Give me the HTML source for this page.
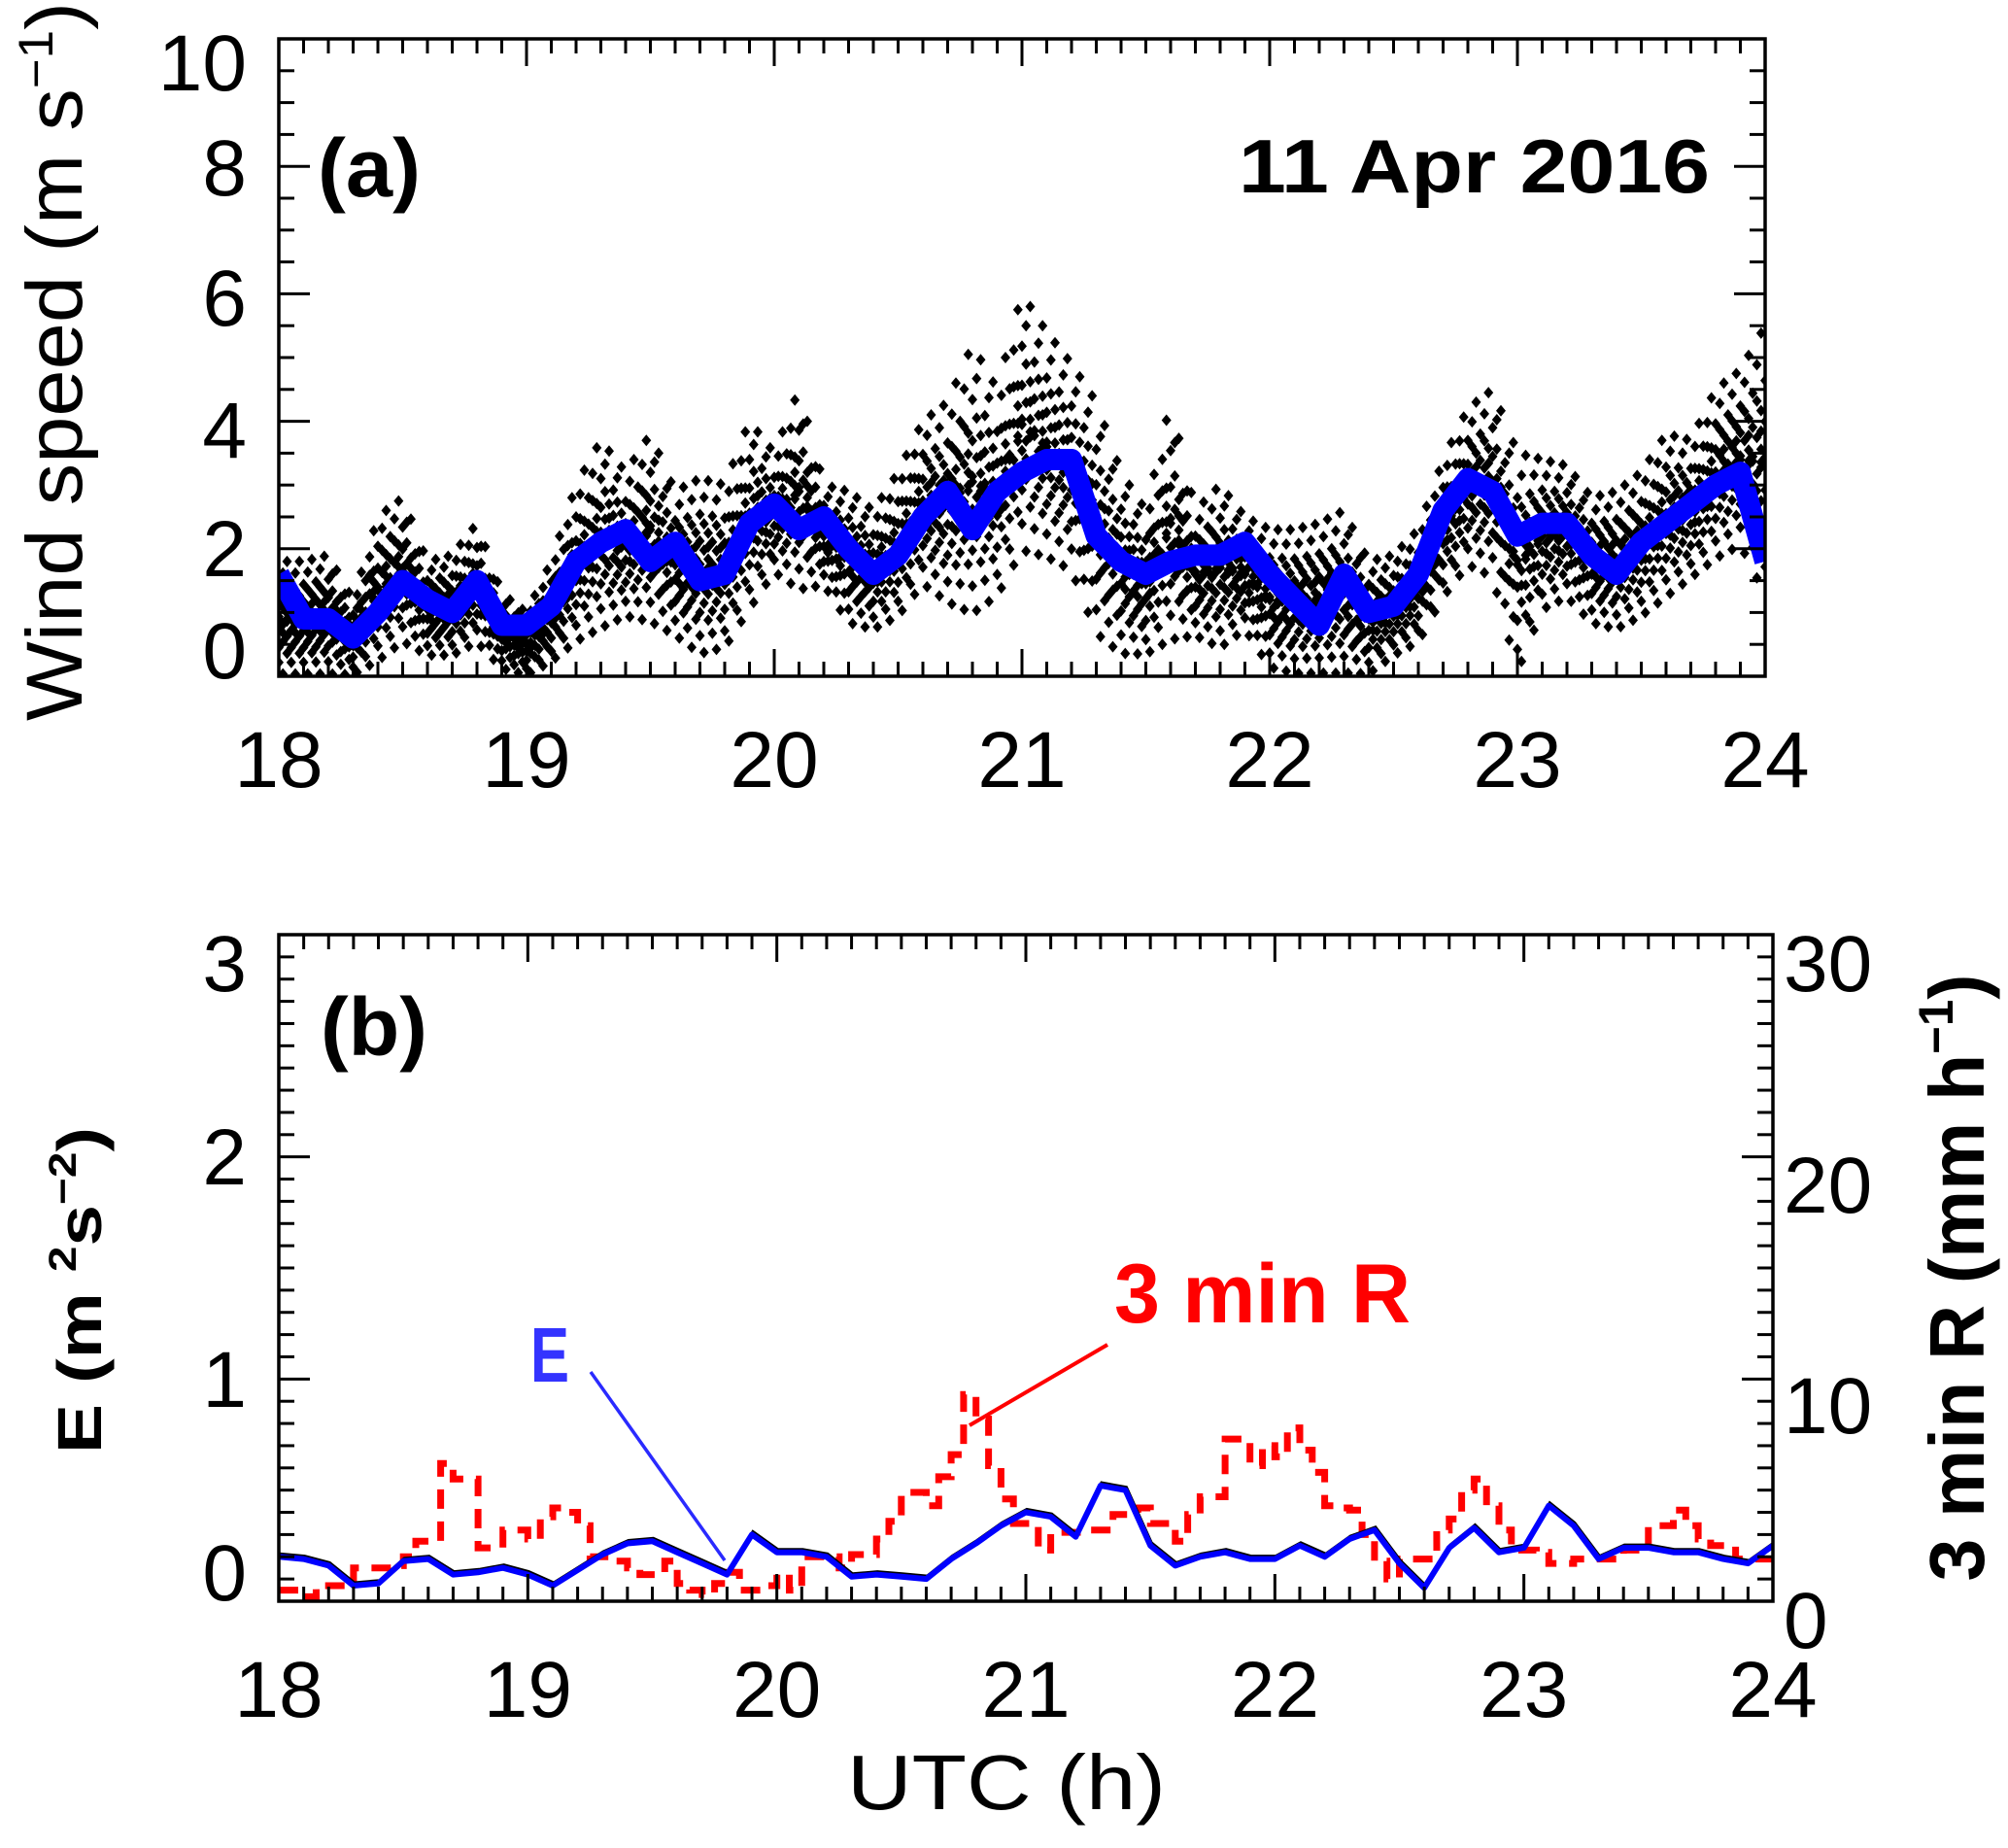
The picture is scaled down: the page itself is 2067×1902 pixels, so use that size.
<!DOCTYPE html>
<html><head><meta charset="utf-8"><title>Wind speed and E, 11 Apr 2016</title>
<style>html,body{margin:0;padding:0;background:#fff}svg{display:block}text{font-family:"Liberation Sans",sans-serif}</style>
</head><body>
<svg id="fig" width="2067" height="1902" viewBox="0 0 2067 1902" xmlns="http://www.w3.org/2000/svg">
<defs>
<clipPath id="clipA"><rect x="287" y="40" width="1530" height="656"/></clipPath>
<clipPath id="clipB"><rect x="287" y="962" width="1538" height="686"/></clipPath>
</defs>
<rect width="2067" height="1902" fill="#fff"/>
<g id="panelA"></g>
<g id="panelB"></g>

<text transform="translate(84,372) rotate(-90)" text-anchor="middle" font-size="82" textLength="740" lengthAdjust="spacingAndGlyphs">Wind speed  (m s<tspan font-size="50" dy="-30">−1</tspan><tspan dy="30">)</tspan></text>
<text x="327" y="202" font-size="84" font-weight="bold" textLength="106" lengthAdjust="spacingAndGlyphs">(a)</text>
<text x="1275" y="198" font-size="78" font-weight="bold" textLength="485" lengthAdjust="spacingAndGlyphs">11 Apr 2016</text>

<text x="330" y="1086" font-size="84" font-weight="bold" textLength="110" lengthAdjust="spacingAndGlyphs">(b)</text>
<text transform="translate(104,1328) rotate(-90)" text-anchor="middle" font-size="64" font-weight="bold" textLength="336" lengthAdjust="spacingAndGlyphs">E (m <tspan font-size="40" dy="-26">2</tspan><tspan dy="26">s</tspan><tspan font-size="40" dy="-26">−2</tspan><tspan dy="26">)</tspan></text>
<text transform="translate(2042,1315) rotate(-90)" text-anchor="middle" font-size="80" font-weight="bold" textLength="625" lengthAdjust="spacingAndGlyphs">3 min R (mm h<tspan font-size="50" dy="-32">−1</tspan><tspan dy="32">)</tspan></text>
<text x="1036" y="1862" text-anchor="middle" font-size="80" textLength="328" lengthAdjust="spacingAndGlyphs">UTC  (h)</text>

<line x1="608" y1="1412" x2="746" y2="1606" stroke="#2a2aff" stroke-width="3.5"/>
<text x="546" y="1422" font-size="80" font-weight="bold" fill="#3333ff" textLength="40" lengthAdjust="spacingAndGlyphs">E</text>
<line x1="1140" y1="1384" x2="998" y2="1467" stroke="#ff0000" stroke-width="4"/>
<text x="1147" y="1361" font-size="86" font-weight="bold" fill="#ff0000" textLength="305" lengthAdjust="spacingAndGlyphs">3 min R</text>
</svg>
<script>
// ---- Panel (a) data: wind speed, 0.1 h grid from 18.0 to 24.0 ----
var windHours = [18.0,18.1,18.2,18.3,18.4,18.5,18.6,18.7,18.8,18.9,19.0,19.1,19.2,19.3,19.4,19.5,19.6,19.7,19.8,19.9,20.0,20.1,20.2,20.3,20.4,20.5,20.6,20.7,20.8,20.9,21.0,21.1,21.2,21.3,21.4,21.5,21.6,21.7,21.8,21.9,22.0,22.1,22.2,22.3,22.4,22.5,22.6,22.7,22.8,22.9,23.0,23.1,23.2,23.3,23.4,23.5,23.6,23.7,23.8,23.9,24.0];
var windSmooth = [1.6,0.9,0.9,0.6,1.0,1.5,1.2,1.0,1.5,0.8,0.8,1.1,1.8,2.1,2.3,1.8,2.1,1.5,1.6,2.4,2.7,2.3,2.5,2.0,1.6,1.9,2.5,2.9,2.3,2.9,3.2,3.4,3.4,2.2,1.8,1.6,1.8,1.9,1.9,2.1,1.6,1.2,0.8,1.6,1.0,1.1,1.6,2.6,3.1,2.9,2.2,2.4,2.4,1.9,1.6,2.1,2.4,2.7,3.0,3.2,1.8];
var windHigh = [1.8,1.8,1.9,1.2,2.5,2.8,1.8,1.9,2.4,1.3,1.0,1.8,3.0,3.7,3.2,3.8,2.9,3.1,3.0,4.0,3.5,4.5,3.0,2.9,2.6,3.2,4.0,4.3,5.2,4.5,6.0,5.4,4.9,4.3,3.2,2.6,4.3,2.6,3.0,2.5,2.3,2.3,2.4,2.6,1.8,1.9,2.3,3.4,4.2,4.5,3.5,3.4,3.3,2.8,2.9,3.2,3.8,3.7,4.5,4.8,5.5];
var windLow = [0,0,0,0,0.2,0.5,0.3,0.3,0.5,0.1,0,0.2,0.5,0.7,0.9,0.8,0.6,0.3,0.4,1.0,1.6,1.3,1.4,0.8,0.7,0.9,1.4,1.1,0.9,1.2,1.9,1.8,1.6,0.6,0.3,0.3,0.5,0.6,0.4,0.7,0.1,0,0,0,0,0.3,0.5,1.2,1.7,1.5,0,1.0,1.2,0.8,0.7,0.9,1.2,1.5,1.8,2.0,1.2];
var windTicks = [0,2,4,6,8,10];
var hourTicks = [18,19,20,21,22,23,24];

// ---- Panel (b) data ----
var eHours = windHours;
var eValues = [0.20,0.19,0.16,0.07,0.08,0.18,0.19,0.12,0.13,0.15,0.12,0.07,0.14,0.21,0.26,0.27,0.22,0.17,0.12,0.30,0.22,0.22,0.20,0.11,0.12,0.11,0.10,0.19,0.26,0.34,0.40,0.38,0.29,0.52,0.50,0.25,0.16,0.20,0.22,0.19,0.19,0.25,0.20,0.28,0.32,0.17,0.06,0.24,0.33,0.22,0.24,0.43,0.34,0.19,0.24,0.24,0.22,0.22,0.19,0.17,0.25];
var rainStart = 18.0;
var rainStep = 0.05;
var rainValues = [0.5,0.5,0.2,0.7,0.7,0.7,1.5,1.5,1.5,1.6,2.0,2.7,2.7,6.2,5.5,5.5,2.4,2.4,3.2,3.2,2.8,3.8,4.2,4.0,3.4,2.0,2.0,1.8,1.5,1.2,1.2,1.8,0.8,0.5,0.3,0.8,1.3,0.5,0.5,0.7,1.2,0.5,2.0,2.0,2.0,1.5,2.1,2.1,2.8,3.6,4.9,4.9,4.3,5.6,6.6,9.3,8.2,6.1,4.6,3.5,3.5,2.3,3.1,3.1,3.1,3.2,3.2,3.9,3.9,4.2,3.5,3.5,2.7,3.9,4.7,4.7,7.3,7.3,6.1,7.0,6.5,7.8,6.8,5.8,4.3,4.2,4.1,3.0,1.8,1.0,1.9,1.9,1.9,3.2,3.7,5.0,5.5,4.3,3.2,2.3,2.3,2.2,1.7,1.7,1.9,1.9,1.9,1.9,2.3,2.3,3.4,3.4,4.1,3.4,2.8,2.5,2.5,1.9,1.9,1.9];
var eTicks = [0,1,2,3];
var eTickLabelY = [1618,1419,1190,991];
var rainTicks = [0,10,20,30];
var rainTickLabelY = [1667,1446,1219,991];
var windTickLabelY = [669,564,442,306,172,64];

var NS = 'http://www.w3.org/2000/svg';
function mk(tag, attrs, parent) { var e = document.createElementNS(NS, tag); for (var k in attrs) e.setAttribute(k, attrs[k]); parent.appendChild(e); return e; }

var A = {x0:287, x1:1817, y0:696, y1:40};
function xa(h){ return A.x0 + (h-18)*(A.x1-A.x0)/6; }
function ya(v){ return A.y0 - v*(A.y0-A.y1)/10; }
var B = {x0:287, x1:1825, y0:1648, y1:962};
function xb(h){ return B.x0 + (h-18)*(B.x1-B.x0)/6; }
function yb(v){ return B.y0 - v*(B.y0-B.y1)/3; }
function yr(r){ return yb(r/10); }
function interp(xs, ys, h){ for (var i=0;i<xs.length-1;i++){ if (h<=xs[i+1]){ var t=(h-xs[i])/(xs[i+1]-xs[i]); return ys[i]+t*(ys[i+1]-ys[i]); } } return ys[ys.length-1]; }

var pa = document.getElementById('panelA');
var pb = document.getElementById('panelB');

// ---------- Panel A ----------
var scat = mk('g', {'clip-path':'url(#clipA)'}, pa);


var pattern = [0.5,0.3,0.7,0.4,0.6,0.2,0.8,0.45,0.55,0.12,0.9,0.35,0.65,0.02,1.0,0.25,0.75,0.5,0.4,0.6,0.48,0.52,0.38,0.62];
var d = '';
for (var m=0; m<=360; m++){
  var h = 18 + m/60;
  var lo = interp(windHours, windLow, h), hi = interp(windHours, windHigh, h);
  for (var k=0;k<8;k++){
    var f = pattern[(m*7+k*3)%pattern.length];
    var v = lo + f*(hi-lo);
    var px = xa(h), py = ya(v);
    d += 'M'+(px-5).toFixed(1)+' '+py.toFixed(1)+'l5 -6l5 6l-5 6z';
  }
}
var sp = mk('path', {d:d, fill:'#000'}, scat);



var ds = '';
for (var i=0;i<windHours.length;i++){ ds += (i?'L':'M') + xa(windHours[i]).toFixed(1)+' '+ya(windSmooth[i]).toFixed(1); }
var ws = mk('path', {d:ds, fill:'none', stroke:'#0000ff', 'stroke-width':22, 'stroke-linejoin':'round', 'stroke-linecap':'butt', 'clip-path':'url(#clipA)'}, pa);



function frame(p, X0, X1, Y0, Y1, name){
  var r = mk('rect', {x:X0, y:Y1, width:X1-X0, height:Y0-Y1, fill:'none', stroke:'#000', 'stroke-width':3.5}, p);
  
  
}
function xTicks(p, xf, Y0, Y1){
  var g = mk('g', {stroke:'#000', 'stroke-width':3}, p);
  
  
  for (var i=0;i<=60;i++){
    var x = xf(18+i/10), L = (i%10===0)?28:15;
    mk('line',{x1:x,y1:Y0,x2:x,y2:Y0-L},g);
    mk('line',{x1:x,y1:Y1,x2:x,y2:Y1+L},g);
  }
}
frame(pa, A.x0, A.x1, A.y0, A.y1, 'panel-a-frame');
xTicks(pa, xa, A.y0, A.y1);
var gya = mk('g', {stroke:'#000', 'stroke-width':3}, pa);


for (var i=0;i<=20;i++){
  var y = ya(i*0.5), L = (i%4===0)?32:16;
  mk('line',{x1:A.x0,y1:y,x2:A.x0+L,y2:y},gya);
  mk('line',{x1:A.x1,y1:y,x2:A.x1-L,y2:y},gya);
}
for (var i=0;i<windTicks.length;i++){
  var t = mk('text', {x:254, y:windTickLabelY[i]+29, 'text-anchor':'end', 'font-size':82}, pa);
  
  
  t.textContent = windTicks[i];
}
for (var i=0;i<hourTicks.length;i++){
  var t = mk('text', {x:xa(hourTicks[i]), y:810, 'text-anchor':'middle', 'font-size':82}, pa);
  
  
  t.textContent = hourTicks[i];
}

// ---------- Panel B ----------
var rd = '';
for (var i=0;i<rainValues.length;i++){
  var h0 = rainStart + i*rainStep, h1 = h0 + rainStep;
  rd += (i? 'L':'M') + xb(h0).toFixed(1)+' '+yr(rainValues[i]).toFixed(1) + 'L' + xb(h1).toFixed(1)+' '+yr(rainValues[i]).toFixed(1);
}
var rp = mk('path', {d:rd, fill:'none', stroke:'#ff0000', 'stroke-width':7, 'stroke-dasharray':'20 13', 'clip-path':'url(#clipB)'}, pb);



var ed = '';
for (var i=0;i<eHours.length;i++){ ed += (i?'L':'M') + xb(eHours[i]).toFixed(1)+' '+yb(eValues[i]).toFixed(1); }
var eb = mk('path', {d:ed, fill:'none', stroke:'#000', 'stroke-width':3, transform:'translate(1,-3)', 'clip-path':'url(#clipB)'}, pb);


var ep = mk('path', {d:ed, fill:'none', stroke:'#0000ff', 'stroke-width':6, 'stroke-linejoin':'round', 'clip-path':'url(#clipB)'}, pb);



frame(pb, B.x0, B.x1, B.y0, B.y1, 'panel-b-frame');
xTicks(pb, xb, B.y0, B.y1);
var gyb = mk('g', {stroke:'#000', 'stroke-width':3}, pb);


for (var i=0;i<=30;i++){
  var y = yb(i*0.1), L = (i%10===0)?32:16;
  mk('line',{x1:B.x0,y1:y,x2:B.x0+L,y2:y},gyb);
  mk('line',{x1:B.x1,y1:y,x2:B.x1-L,y2:y},gyb);
}
for (var i=0;i<eTicks.length;i++){
  var t = mk('text', {x:254, y:eTickLabelY[i]+29, 'text-anchor':'end', 'font-size':82}, pb);
  
  
  t.textContent = eTicks[i];
}
for (var i=0;i<rainTicks.length;i++){
  var t = mk('text', {x:1836, y:rainTickLabelY[i]+29, 'text-anchor':'start', 'font-size':82}, pb);
  
  
  t.textContent = rainTicks[i];
}
for (var i=0;i<hourTicks.length;i++){
  var t = mk('text', {x:xb(hourTicks[i]), y:1767, 'text-anchor':'middle', 'font-size':82}, pb);
  
  
  t.textContent = hourTicks[i];
}
</script>
</body></html>
